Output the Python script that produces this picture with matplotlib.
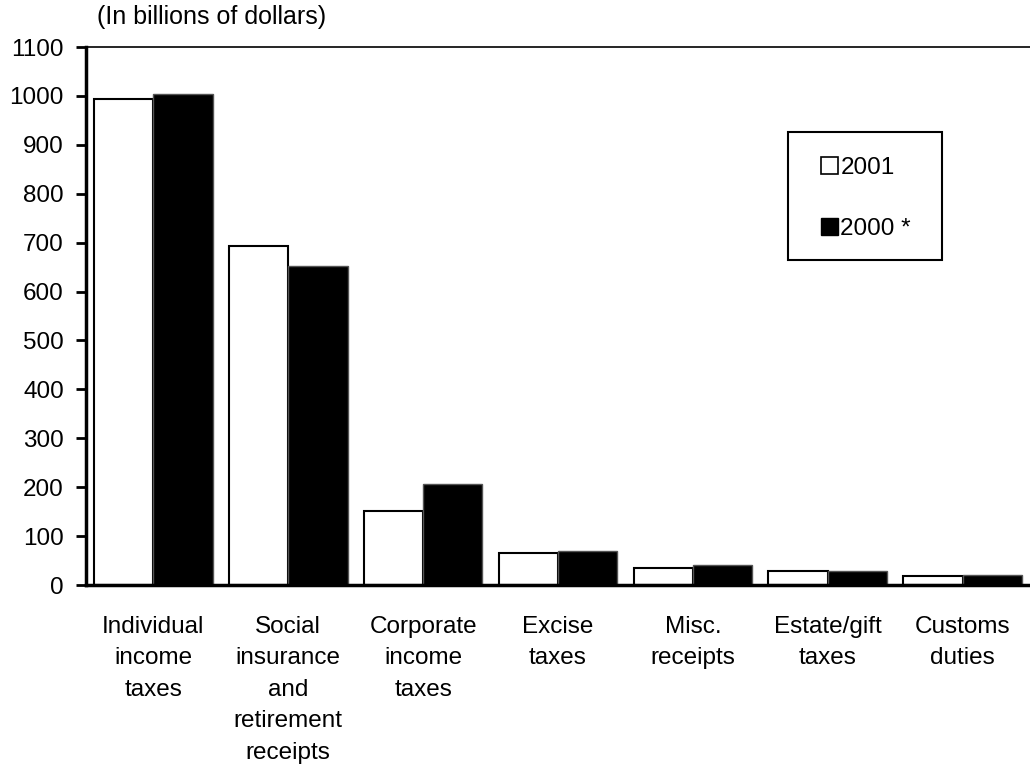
import matplotlib
matplotlib.use("Agg")
import matplotlib.pyplot as plt
import numpy as np
from matplotlib.patches import Patch, Rectangle

categories = ["Individual\nincome\ntaxes", "Social\ninsurance\nand\nretirement\nreceipts",
              "Corporate\nincome\ntaxes", "Excise\ntaxes", "Misc.\nreceipts",
              "Estate/gift\ntaxes", "Customs\nduties"]
values_2001 = [994, 694, 151, 66, 35, 28, 19]
values_2000 = [1004, 653, 207, 69, 40, 29, 20]
yticks = [0, 100, 200, 300, 400, 500, 600, 700, 800, 900, 1000, 1100]

plt.rcParams['font.family'] = ['Liberation Sans', 'DejaVu Sans']

W, H = 1030, 767
fig = plt.figure(figsize=(W/100, H/100), dpi=100)
ax = fig.add_axes([86/W, 1-585/H, 1-86/W, (585-47)/H])

x = np.arange(len(categories))
w = 0.44
ax.bar(x - w/2, values_2001, w, color='white', edgecolor='black', linewidth=1.5, label='2001')
ax.bar(x + w/2, values_2000, w, color='black', edgecolor='#555555', linewidth=1.0, label='2000 *')

ax.set_xlim(-0.5, len(categories) - 0.5)
ax.set_ylim(0, 1100)
ax.set_yticks(yticks)
ax.set_yticklabels([str(t) for t in yticks], fontsize=17.5)
ax.set_xticks(x)
ax.set_xticklabels(categories, fontsize=17.5, linespacing=1.56, va='top')
ax.tick_params(axis='x', length=0, pad=22)
ax.tick_params(axis='y', length=7, width=2, direction='out', pad=9)

ax.spines['right'].set_visible(False)
ax.spines['top'].set_linewidth(1.2)
ax.spines['left'].set_linewidth(2.5)
ax.spines['bottom'].set_linewidth(2.5)

# legend frame
def fx(px):
    return px / W
def fy(py):
    return 1 - py / H
fig.patches.append(Rectangle((fx(788), fy(260)), fx(942) - fx(788), fy(132) - fy(260),
                             transform=fig.transFigure, facecolor='white',
                             edgecolor='black', linewidth=1.5, zorder=5))

handles = [Patch(facecolor='white', edgecolor='black', linewidth=1.2),
           Patch(facecolor='black', edgecolor='black')]
leg = fig.legend(handles, ['2001', '2000 *'], loc='upper left',
                 bbox_to_anchor=(fx(821), fy(157)),
                 fontsize=17.5, frameon=False,
                 handlelength=0.7, handleheight=0.7, handletextpad=0.1,
                 labelspacing=1.6, borderpad=0, borderaxespad=0)
leg.set_zorder(6)

fig.text(97/W, 1-17/H, "(In billions of dollars)", fontsize=18, ha='left', va='center')

fig.savefig("out.png", dpi=100)
